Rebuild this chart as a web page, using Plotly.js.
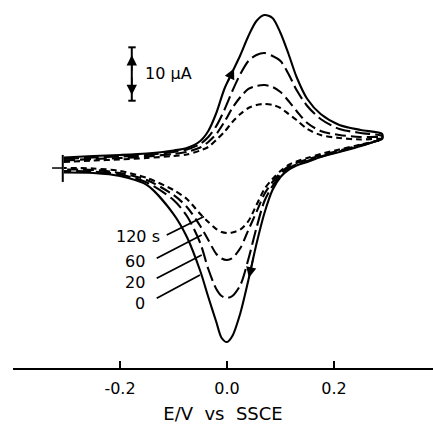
<!DOCTYPE html>
<html><head><meta charset="utf-8">
<script src="https://cdn.plot.ly/plotly-3.0.1.min.js"></script>
<style>html,body{margin:0;padding:0;background:#fff}#chart{width:433px;height:424px}</style>
</head><body><div id="chart"></div>
<script>
// Potential (V vs SSCE) sampling for forward (anodic) and reverse (cathodic) sweeps
const E_fwd = [-0.305,-0.25,-0.20,-0.15,-0.10,-0.075,-0.05,-0.035,-0.02,-0.005,0.01,0.025,0.04,0.055,0.07,0.085,0.10,0.115,0.13,0.15,0.175,0.21,0.25,0.29];
const E_rev = [0.29,0.25,0.21,0.175,0.15,0.13,0.115,0.10,0.085,0.07,0.055,0.04,0.025,0.01,0.0,-0.01,-0.02,-0.035,-0.05,-0.075,-0.10,-0.15,-0.20,-0.25,-0.305];

// Currents (uA)
const i0_fwd   = [1.42,1.70,1.89,2.17,2.74,3.21,4.53,6.42,9.81,14.34,17.55,20.75,24.34,27.17,28.30,27.74,24.91,20.94,16.60,12.45,9.62,7.55,6.60,5.85];
const i0_rev   = [5.09,3.58,2.45,1.51,0.57,-0.09,-0.94,-2.26,-4.72,-9.06,-14.91,-21.70,-27.92,-32.26,-33.40,-32.64,-29.62,-24.91,-20.00,-13.58,-9.25,-3.77,-2.08,-1.51,-1.42];
const i20_fwd  = [1.13,1.42,1.60,1.89,2.45,2.92,3.96,5.28,7.36,10.38,13.96,17.17,19.62,20.75,21.13,20.57,19.62,17.17,14.15,11.13,8.68,6.79,6.04,5.47];
const i20_rev  = [5.00,3.68,2.55,1.60,0.75,0.09,-0.57,-1.89,-3.96,-6.79,-11.89,-17.74,-22.64,-24.72,-25.09,-24.72,-23.40,-19.62,-14.72,-9.62,-6.60,-3.30,-1.79,-1.23,-1.13];
const i60_fwd  = [0.85,1.13,1.32,1.60,2.08,2.45,3.30,4.34,5.85,8.11,10.75,12.83,14.34,14.91,15.09,14.72,13.77,12.08,10.19,7.92,6.42,5.66,5.28,5.19];
const i60_rev  = [4.91,3.77,2.74,1.79,1.04,0.38,-0.28,-1.51,-3.21,-5.47,-8.87,-12.26,-15.66,-17.55,-17.92,-17.64,-16.79,-14.15,-11.51,-7.92,-5.66,-2.83,-1.51,-0.94,-0.85];
const i120_fwd = [0.57,0.85,1.04,1.32,1.70,1.98,2.74,3.40,4.72,6.23,8.11,9.62,10.75,11.32,11.51,11.32,10.75,9.62,8.49,6.79,5.66,5.09,4.81,4.91];
const i120_rev = [4.81,3.87,2.92,2.08,1.32,0.66,0.00,-1.13,-2.64,-4.53,-7.55,-10.57,-12.17,-12.74,-12.83,-12.64,-12.08,-10.75,-9.25,-6.42,-4.72,-2.45,-1.13,-0.66,-0.57];

const curveLabels = ['0','20','60','120 s'];
const tickVals = [-0.2, 0.0, 0.2];
const tickText = ['-0.2','0.0','0.2'];

const FONT = 'DejaVu Sans, Arial, sans-serif';
const series = [
  {f:i0_fwd,   r:i0_rev,   dash:'solid'},
  {f:i20_fwd,  r:i20_rev,  dash:'15px,5px'},
  {f:i60_fwd,  r:i60_rev,  dash:'11px,5px'},
  {f:i120_fwd, r:i120_rev, dash:'6px,4px'}
];
const traces = series.map(s => ({
  type:'scatter', mode:'lines',
  x: E_fwd.concat(E_rev), y: s.f.concat(s.r),
  line:{color:'#000', width:2.1, dash:s.dash, shape:'spline', smoothing:0.8},
  hoverinfo:'skip', showlegend:false
}));

// label leader lines: [x0,y0,x1,y1]
const leaders = [
  [-0.1314,-25.15,-0.0505,-20.75],
  [-0.1314,-21.38,-0.0473,-16.98],
  [-0.1314,-17.60,-0.0473,-13.21],
  [-0.1127,-13.21,-0.0430,-9.72]
];
const labelPos = [[-0.1495,-26.04],[-0.1495,-22.26],[-0.1495,-18.25],[-0.122,-13.53]];

const shapes = leaders.map(l => ({type:'line', xref:'x', yref:'y', x0:l[0], y0:l[1], x1:l[2], y1:l[3], line:{color:'#000', width:1.8}}));
// scale bar 10 uA
shapes.push({type:'line', xref:'x', yref:'y', x0:-0.178, x1:-0.178, y0:12.13, y1:22.2, line:{color:'#000', width:2}});
shapes.push({type:'line', xref:'x', yref:'y', x0:-0.1845, x1:-0.1707, y0:22.2, y1:22.2, line:{color:'#000', width:2}});
shapes.push({type:'line', xref:'x', yref:'y', x0:-0.1845, x1:-0.1707, y0:12.13, y1:12.13, line:{color:'#000', width:2}});
// start marker
shapes.push({type:'line', xref:'x', yref:'y', x0:-0.307, x1:-0.307, y0:1.9, y1:-3.2, line:{color:'#000', width:2}});
shapes.push({type:'line', xref:'x', yref:'y', x0:-0.327, x1:-0.307, y0:-0.57, y1:-0.57, line:{color:'#000', width:1.5}});

const annotations = curveLabels.map((t,k) => ({
  x:labelPos[k][0], y:labelPos[k][1], xref:'x', yref:'y', text:t, showarrow:false,
  xanchor:'right', yanchor:'middle', font:{family:FONT, size:16, color:'#000'}
}));
annotations.push({x:-0.157, y:17.3, xref:'x', yref:'y', text:'10 \u03bcA', showarrow:false, xanchor:'left', yanchor:'middle', font:{family:FONT, size:16, color:'#000'}});
const arrow = (x,y,ax,ay) => ({x:x, y:y, ax:ax, ay:ay, xref:'x', yref:'y', axref:'x', ayref:'y', text:'', showarrow:true, arrowhead:2, arrowsize:1.3, arrowwidth:1.6, arrowcolor:'#000'});
annotations.push(arrow(0.0131, 18.2, 0.0, 15.41));
annotations.push(arrow(0.041, -21.25, 0.05, -17.17));
annotations.push(arrow(-0.178, 20.75, -0.178, 17.5));
annotations.push(arrow(-0.178, 13.2, -0.178, 16.8));

const layout = {
  width:433, height:424,
  margin:{l:13, r:0, t:0, b:56},
  paper_bgcolor:'#fff', plot_bgcolor:'#fff',
  showlegend:false,
  xaxis:{range:[-0.4,0.385], showgrid:false, zeroline:false, showline:true, linecolor:'#000', linewidth:2,
    ticks:'inside', ticklen:7, tickwidth:2, tickcolor:'#000', tickvals:tickVals, ticktext:tickText,
    ticklabelstandoff:5,
    tickfont:{family:FONT, size:16, color:'#000'},
    title:{text:'E/V  vs  SSCE', font:{family:FONT, size:18, color:'#000'}, standoff:15}},
  yaxis:{range:[-38.3,31.13], visible:false, showgrid:false, zeroline:false},
  shapes:shapes, annotations:annotations
};
Plotly.newPlot('chart', traces, layout, {staticPlot:true, displayModeBar:false});
</script></body></html>
